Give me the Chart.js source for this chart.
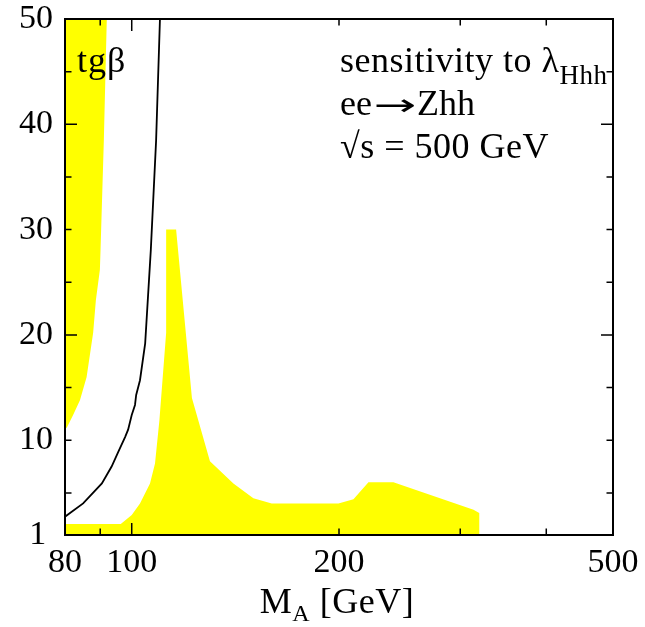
<!DOCTYPE html>
<html><head><meta charset="utf-8">
<script src="https://cdn.jsdelivr.net/npm/chart.js@4.4.1/dist/chart.umd.min.js"></script>
<style>
html,body{margin:0;padding:0;background:#fff;}
#wrap{position:relative;width:645px;height:627px;overflow:hidden;}
#c{position:absolute;left:0;top:0;}
#notes{position:absolute;left:65px;top:19px;width:546px;height:515px;overflow:hidden;}
.t{position:absolute;font-family:'Liberation Serif','Times New Roman',serif;color:#000;line-height:1;white-space:nowrap;font-size:36px;}
.sub{font-size:27px;position:relative;top:12px;}
.arr{display:inline-block;font-family:'DejaVu Sans',sans-serif;font-size:30px;transform:scaleX(1.7);margin:0 10px 0 10px;}
</style></head><body>
<div id="wrap">
<canvas id="c" width="645" height="627"></canvas>
<div id="notes">
  <div class="t" style="left:12px;top:23px;letter-spacing:1px;">tgβ</div>
  <div class="t" style="left:275px;top:23px;letter-spacing:0.5px;">sensitivity to λ<span class="sub">Hhh</span></div>
  <div class="t" style="left:275px;top:66px;">ee<span class="arr">→</span>Zhh</div>
  <div class="t" style="left:275px;top:109px;letter-spacing:0.5px;">√s = 500 GeV</div>
</div>
<div class="t" style="left:0;width:674px;text-align:center;top:583px;letter-spacing:0.5px;">M<span class="sub" style="top:8px;font-size:24px;">A</span> [GeV]</div>
</div>
<script>
// tick values and labels
const xTicks = [80, 90, 100, 200, 300, 400, 500];
const xTickLabels = ['80', '', '100', '200', '', '', '500'];
const xMajorTicks = [100];
const yTicks = [1, 5, 10, 15, 20, 25, 30, 35, 40, 45, 50];
const yTickLabels = ['1\u2009', '', '10', '', '20', '', '30', '', '40', '', '50'];
const yMajorTicks = [20, 40];

// yellow region at low M_A (left strip)
const leftBandM = [80, 80.5, 82.2, 84.1, 86.0, 87.9, 88.7, 89.9, 90.1, 91.1, 92.0, 80];
const leftBandT = [11.1, 11.2, 12.4, 13.8, 16.0, 20.2, 23.3, 26.2, 28.1, 38.5, 50, 50];

// yellow region along the bottom with the peak
const bandM = [80, 80, 96.4, 100.0, 102.8, 106.3, 108.1, 109.7, 112.2, 112.2, 116.0, 122.3, 129.9, 140.5, 150.2, 159.7, 199.6, 209.9, 220.7, 239.9, 313.6, 319.7, 319.7];
const bandT = [1, 2.05, 2.05, 2.9, 4.0, 5.9, 7.8, 11.9, 20.2, 30, 30, 14.0, 8.0, 5.9, 4.5, 4.0, 4.0, 4.4, 6.0, 6.0, 3.4, 3.1, 1];

// black contour
const curveM = [80, 85.0, 90.5, 93.5, 95.6, 97.8, 98.8, 100.0, 101.1, 101.5, 102.8, 104.6, 106.6, 108.5, 109.9];
const curveT = [2.74, 4.0, 5.9, 7.5, 8.9, 10.3, 11.0, 12.4, 13.35, 14.3, 15.7, 19.2, 28.1, 38.5, 50];

// short black line at bottom left
const lowM = [80, 84.1];
const lowT = [1.7, 1.0];

const pts = (xs, ys) => xs.map((x, i) => ({x: x, y: ys[i]}));
const FONT = "'Liberation Serif','Times New Roman',serif";
const YELLOW = '#ffff00';

const framePlugin = {
  id: 'frame',
  afterDraw(chart) {
    const ctx = chart.ctx, a = chart.chartArea;
    const xs = chart.scales.x, ys = chart.scales.y;
    ctx.save();
    ctx.strokeStyle = '#000';
    ctx.lineWidth = 1.5;
    ctx.beginPath();
    xTicks.forEach(v => {
      const p = xs.getPixelForValue(v);
      const L = xMajorTicks.includes(v) ? 12 : 6.5;
      ctx.moveTo(p, a.bottom); ctx.lineTo(p, a.bottom - L);
      ctx.moveTo(p, a.top); ctx.lineTo(p, a.top + L);
    });
    yTicks.forEach(v => {
      const p = ys.getPixelForValue(v);
      const L = yMajorTicks.includes(v) ? 12 : 6.5;
      ctx.moveTo(a.left, p); ctx.lineTo(a.left + L, p);
      ctx.moveTo(a.right, p); ctx.lineTo(a.right - L, p);
    });
    ctx.stroke();
    ctx.lineWidth = 2;
    ctx.strokeRect(a.left, a.top, a.right - a.left, a.bottom - a.top);
    ctx.restore();
  }
};

new Chart(document.getElementById('c'), {
  type: 'scatter',
  data: {
    datasets: [
      {data: pts(leftBandM, leftBandT), showLine: true, fill: 'shape', backgroundColor: YELLOW, borderColor: YELLOW, borderWidth: 0, pointRadius: 0, tension: 0},
      {data: pts(bandM, bandT), showLine: true, fill: 'shape', backgroundColor: YELLOW, borderColor: YELLOW, borderWidth: 0, pointRadius: 0, tension: 0},
      {data: pts(curveM, curveT), showLine: true, fill: false, borderColor: '#000', borderWidth: 1.8, pointRadius: 0, tension: 0},
      {data: pts(lowM, lowT), showLine: true, fill: false, borderColor: '#000', borderWidth: 1.8, pointRadius: 0, tension: 0}
    ]
  },
  options: {
    responsive: false,
    devicePixelRatio: 1,
    animation: false,
    layout: {padding: {top: 19, right: 32, bottom: 0, left: 0}},
    plugins: {legend: {display: false}, tooltip: {enabled: false}},
    scales: {
      x: {
        type: 'logarithmic', min: 80, max: 500, bounds: 'data',
        afterBuildTicks: s => { s.ticks = xTicks.map(v => ({value: v})); },
        afterFit: s => { s.height = 92; s.paddingLeft = 0; s.paddingRight = 0; },
        ticks: {callback: (v, i) => xTickLabels[i], autoSkip: false, maxRotation: 0, minRotation: 0, color: '#000', padding: 8, font: {family: FONT, size: 34}},
        grid: {display: false, drawTicks: false},
        border: {display: false}
      },
      y: {
        type: 'linear', min: 1, max: 50, bounds: 'data',
        afterBuildTicks: s => { s.ticks = yTicks.map(v => ({value: v})); },
        afterFit: s => { s.width = 65; s.paddingTop = 0; s.paddingBottom = 0; },
        ticks: {callback: (v, i) => yTickLabels[i], autoSkip: false, color: '#000', padding: 12, font: {family: FONT, size: 34}},
        grid: {display: false, drawTicks: false},
        border: {display: false}
      }
    }
  },
  plugins: [framePlugin]
});
</script>
</body></html>
